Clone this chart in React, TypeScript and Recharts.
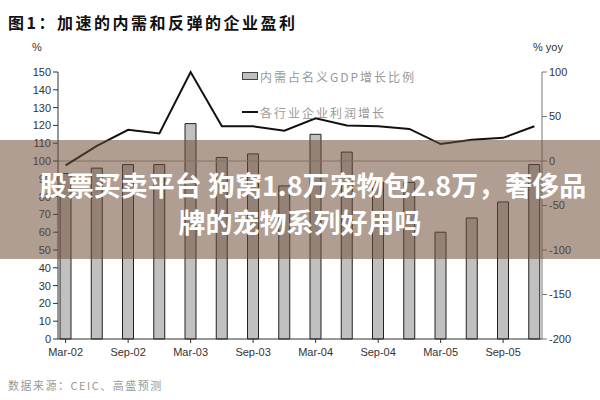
import { ComposedChart, Bar, Line, XAxis, YAxis, Legend, ReferenceLine } from 'recharts';

const quarters = [
  'Mar-02', 'Jun-02', 'Sep-02', 'Dec-02', 'Mar-03', 'Jun-03', 'Sep-03', 'Dec-03',
  'Mar-04', 'Jun-04', 'Sep-04', 'Dec-04', 'Mar-05', 'Jun-05', 'Sep-05', 'Dec-05',
];
// 内需占名义GDP增长比例 (%, left axis)
const domesticShare = [93, 96, 98, 98, 121, 102, 104, 86, 115, 105, 88, 88, 60, 68, 77, 98];
// 各行业企业利润增长 (% yoy, right axis)
const profitGrowth = [-5, 17, 35, 31, 100, 39, 39, 34, 48, 40, 39, 36, 19, 24, 26, 39];

const leftTicks = [0, 10, 20, 30, 40, 50, 60, 70, 80, 90, 100, 110, 120, 130, 140, 150];
const rightTicks = [-200, -150, -100, -50, 0, 50, 100];

const data = quarters.map((q, i) => ({ q, share: domesticShare[i], profit: profitGrowth[i] }));

const tickStyle = { fontFamily: '"Liberation Sans", Arial, sans-serif', fontSize: 11, fill: '#333' };

function ChartLegend() {
  const txt = { fontFamily: '"Noto Sans CJK SC", sans-serif', fontSize: 12, color: '#999', letterSpacing: 2 };
  return (
    <div style={{ width: 200 }}>
      <div style={{ display: 'flex', alignItems: 'center', height: 16 }}>
        <span style={{ width: 14, height: 6, background: '#c0c0c0', border: '1px solid #444', marginRight: 2 }} />
        <span style={txt}>内需占名义GDP增长比例</span>
      </div>
      <div style={{ display: 'flex', alignItems: 'center', height: 16, marginTop: 20 }}>
        <span style={{ width: 16, height: 2, background: '#111', marginRight: 2 }} />
        <span style={txt}>各行业企业利润增长</span>
      </div>
    </div>
  );
}

export default function App() {
  return (
    <div style={{ position: 'absolute', left: 0, top: 0, width: 600, height: 400, background: '#fff', overflow: 'hidden' }}>
      <div style={{ position: 'absolute', left: 8, top: 10, fontFamily: '"Noto Sans CJK SC", sans-serif', fontWeight: 700, fontSize: 16, letterSpacing: 2.5, color: '#111' }}>
        图1：加速的内需和反弹的企业盈利
      </div>
      <div style={{ position: 'absolute', left: 32, top: 41, fontFamily: '"Liberation Sans", Arial, sans-serif', fontSize: 11, color: '#333' }}>%</div>
      <div style={{ position: 'absolute', left: 533, top: 41, fontFamily: '"Liberation Sans", Arial, sans-serif', fontSize: 11, color: '#333' }}>% yoy</div>

      <ComposedChart width={600} height={400} data={data} margin={{ top: 72, right: 0, bottom: 31, left: 0 }}>
        <XAxis
          dataKey="q"
          interval={1}
          padding={{ left: -8, right: -8 }}
          tick={{ ...tickStyle, dy: 3 }}
          tickLine={{ stroke: '#333' }}
          axisLine={{ stroke: '#333' }}
          tickSize={4}
          height={30}
        />
        <YAxis
          yAxisId="left"
          domain={[0, 150]}
          ticks={leftTicks}
          interval={0}
          width={58}
          tick={tickStyle}
          tickLine={{ stroke: '#333' }}
          axisLine={{ stroke: '#333' }}
          tickSize={5}
        />
        <YAxis
          yAxisId="right"
          orientation="right"
          domain={[-200, 100]}
          ticks={rightTicks}
          interval={0}
          width={58}
          tick={tickStyle}
          tickLine={{ stroke: '#777' }}
          axisLine={{ stroke: '#777' }}
          tickSize={5}
        />
        <ReferenceLine yAxisId="right" y={0} stroke="#999" />
        <Legend layout="vertical" align="center" verticalAlign="middle" content={() => <ChartLegend />} wrapperStyle={{ left: 242, top: 68 }} />
        <Bar yAxisId="left" dataKey="share" barSize={11} fill="#c0c0c0" stroke="#222" strokeWidth={1} isAnimationActive={false} />
        <Line yAxisId="right" dataKey="profit" stroke="#111" strokeWidth={2} dot={false} type="linear" isAnimationActive={false} />
      </ComposedChart>

      <div style={{ position: 'absolute', left: 8, top: 377, fontFamily: '"Noto Sans CJK SC", sans-serif', fontSize: 11, color: '#999', letterSpacing: 1.5 }}>
        数据来源：CEIC、高盛预测
      </div>

      <div style={{ position: 'absolute', left: 0, top: 140, width: 600, height: 119, background: 'rgba(110, 78, 55, 0.55)', fontFamily: '"Noto Sans CJK SC", sans-serif', fontWeight: 700, fontSize: 27, color: '#fff', textAlign: 'center', lineHeight: '37px' }}>
        <div style={{ marginTop: 26, paddingLeft: 26, whiteSpace: 'nowrap' }}>股票买卖平台 狗窝1.8万宠物包2.8万，奢侈品</div>
        <div>牌的宠物系列好用吗</div>
      </div>
    </div>
  );
}
